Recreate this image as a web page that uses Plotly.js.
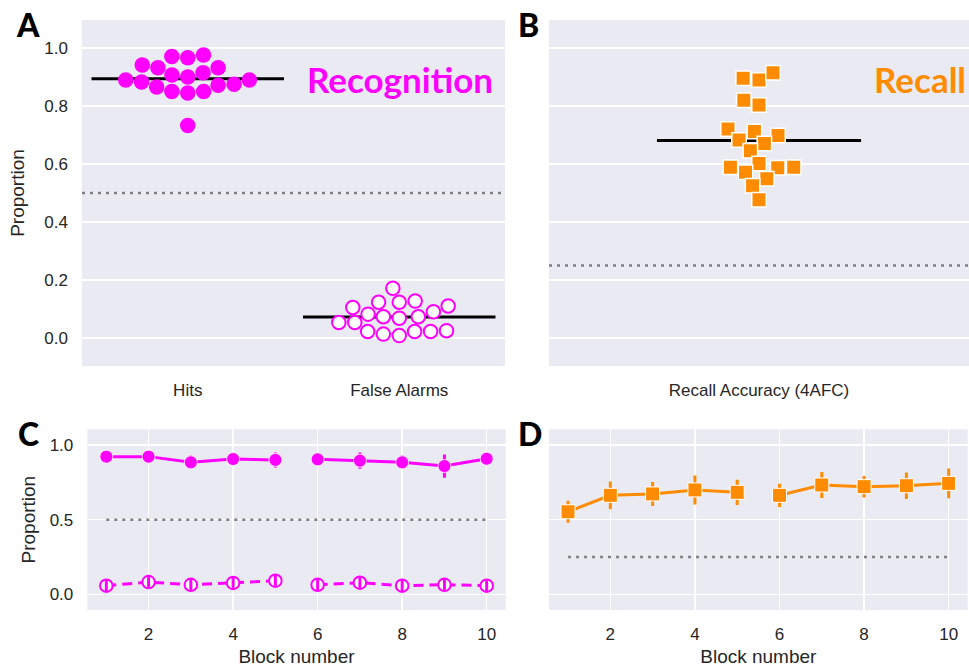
<!DOCTYPE html>
<html><head><meta charset="utf-8">
<script src="https://cdn.plot.ly/plotly-3.0.1.min.js"></script>
<style>html,body{margin:0;padding:0;background:#fff}#chart{width:969px;height:667px}</style>
</head><body><div id="chart"></div>
<script>
// ---------------- data ----------------
const recogCategories = ['Hits', 'False Alarms'];
const hits = [0.976, 0.967, 0.971, 0.942, 0.932, 0.932, 0.890, 0.883, 0.866, 0.907,
              0.850, 0.900, 0.845, 0.915, 0.850, 0.872, 0.875, 0.890, 0.733];
const falseAlarms = [0.171, 0.127, 0.123, 0.123, 0.110, 0.090, 0.105, 0.082, 0.053, 0.053,
                     0.073, 0.068, 0.073, 0.022, 0.013, 0.008, 0.022, 0.022, 0.025];
const recallCategories = ['Recall Accuracy (4AFC)'];
const recall = [0.896, 0.890, 0.915, 0.820, 0.804, 0.712, 0.698, 0.721, 0.671, 0.683,
                0.646, 0.602, 0.589, 0.572, 0.587, 0.589, 0.549, 0.525, 0.477];
const blocks = [1, 2, 3, 4, 5, 6, 7, 8, 9, 10];
const blockHits = [0.922, 0.922, 0.884, 0.906, 0.900, 0.904, 0.895, 0.884, 0.859, 0.908];
const blockHitsErr = [0.025, 0.025, 0.045, 0.04, 0.05, 0.035, 0.055, 0.045, 0.078, 0.03];
const blockFA = [0.058, 0.082, 0.064, 0.076, 0.091, 0.064, 0.078, 0.058, 0.064, 0.058];
const blockFAErr = [0.04, 0.04, 0.04, 0.04, 0.04, 0.04, 0.04, 0.04, 0.04, 0.035];
const blockRecall = [0.553, 0.663, 0.672, 0.699, 0.683, 0.663, 0.732, 0.721, 0.727, 0.743];
const blockRecallErr = [0.074, 0.093, 0.08, 0.097, 0.085, 0.078, 0.087, 0.072, 0.088, 0.10];
const recogChance = 0.5;
const recallChance = 0.25;
const sessions = [[0, 5], [5, 10]];   // blocks 1-5 and 6-10 are drawn as separate runs

// ---------------- helpers ----------------
const MAG = '#FF00FF', ORG = '#FF8C00', BG = '#EAEAF2', TXT = '#262626';
const mean = a => a.reduce((s, v) => s + v, 0) / a.length;

// seaborn-like beeswarm: returns x (data units) for each value
function swarm(values, center, pxPerX, pxPerY, r) {
  const idx = values.map((v, i) => i).sort((a, b) => values[a] - values[b] || a - b);
  const placed = [];
  const xs = new Array(values.length);
  idx.forEach((i, k) => {
    const y = values[i] * pxPerY;
    if (k === 0) { placed.push({x: 0, y}); xs[i] = center; return; }
    const nb = placed.filter(p => Math.abs(p.y - y) < 2 * r);
    const cands = [0];
    nb.forEach(p => {
      const dy = y - p.y;
      const dx = Math.sqrt(Math.max(4 * r * r - dy * dy, 0)) * 1.05;
      cands.push(p.x - dx, p.x + dx);
    });
    const order = cands.map((c, j) => [c, j]).sort((a, b) => Math.abs(a[0]) - Math.abs(b[0]) || a[1] - b[1]);
    let chosen = 0;
    for (const [c] of order) {
      if (nb.every(p => (c - p.x) ** 2 + (y - p.y) ** 2 >= 4 * r * r - 1e-6)) { chosen = c; break; }
    }
    placed.push({x: chosen, y});
    xs[i] = center + chosen / pxPerX;
  });
  return xs;
}

const W = 969, H = 667;
const dom = (a, b) => [a / W, b / W];
const vdom = (top, bottom) => [1 - bottom / H, 1 - top / H];
const pxYTop = 290;       // px per unit, top row
const rSw = 7.6;

const traces = [];
// ---- Panel A ----
const hitsMean = mean(hits), faMean = mean(falseAlarms);
[[0, hitsMean], [1, faMean]].forEach(([c, m]) => traces.push({
  x: [c - 0.455, c + 0.455], y: [m, m], xaxis: 'x', yaxis: 'y', mode: 'lines',
  line: {color: '#000', width: 3}, hoverinfo: 'skip', showlegend: false
}));
traces.push({
  x: swarm(hits, 0, 211.5, pxYTop, rSw), y: hits, xaxis: 'x', yaxis: 'y', mode: 'markers',
  marker: {color: MAG, size: 15.5, line: {width: 0}}, showlegend: false, name: recogCategories[0]
});
traces.push({
  x: swarm(falseAlarms, 1, 211.5, pxYTop, rSw), y: falseAlarms, xaxis: 'x', yaxis: 'y', mode: 'markers',
  marker: {color: '#fff', size: 13.5, line: {color: MAG, width: 2}}, showlegend: false, name: recogCategories[1]
});
// ---- Panel B ----
const recallMean = mean(recall);
traces.push({
  x: [-0.243, 0.243], y: [recallMean, recallMean], xaxis: 'x2', yaxis: 'y2', mode: 'lines',
  line: {color: '#000', width: 3}, hoverinfo: 'skip', showlegend: false
});
traces.push({
  x: swarm(recall, 0, 420, pxYTop, rSw), y: recall, xaxis: 'x2', yaxis: 'y2', mode: 'markers',
  marker: {color: ORG, symbol: 'square', size: 14.5, line: {color: '#fff', width: 1.5}}, showlegend: false,
  name: recallCategories[0]
});
// ---- Panels C & D ----
sessions.forEach(([a, b]) => {
  const bx = blocks.slice(a, b);
  traces.push({
    x: bx, y: blockHits.slice(a, b), xaxis: 'x3', yaxis: 'y3', mode: 'lines+markers',
    line: {color: MAG, width: 3}, marker: {color: MAG, size: 13, line: {color: '#fff', width: 0.8}},
    error_y: {type: 'data', array: blockHitsErr.slice(a, b), color: MAG, thickness: 3, width: 0},
    showlegend: false, name: 'Hits'
  });
  traces.push({
    x: bx, y: blockFA.slice(a, b), xaxis: 'x3', yaxis: 'y3', mode: 'lines+markers',
    line: {color: MAG, width: 3, dash: '10px,6px'}, marker: {color: '#fff', size: 12.5, line: {color: MAG, width: 2}},
    showlegend: false, name: 'False Alarms'
  });
  traces.push({
    x: bx, y: blockFA.slice(a, b), xaxis: 'x3', yaxis: 'y3', mode: 'markers',
    marker: {color: 'rgba(0,0,0,0)', size: 1},
    error_y: {type: 'data', array: blockFAErr.slice(a, b), color: MAG, thickness: 3, width: 0},
    showlegend: false, hoverinfo: 'skip'
  });
  traces.push({
    x: bx, y: blockRecall.slice(a, b), xaxis: 'x4', yaxis: 'y4', mode: 'lines+markers',
    line: {color: ORG, width: 3}, marker: {color: ORG, symbol: 'square', size: 14, line: {color: '#fff', width: 1}},
    error_y: {type: 'data', array: blockRecallErr.slice(a, b), color: ORG, thickness: 3, width: 0},
    showlegend: false, name: 'Recall'
  });
});

const tickFont = {family: 'Liberation Sans, Arial, sans-serif', size: 17, color: TXT};
const titleFont = {family: 'Liberation Sans, Arial, sans-serif', size: 19, color: TXT};
const baseAx = {showline: false, zeroline: false, ticks: '', tickfont: tickFont, gridcolor: '#fff', gridwidth: 1.6,
  fixedrange: true, ticklabelstandoff: 13};

const topY = vdom(20, 366), botY = vdom(429.3, 610);
const layout = {
  width: W, height: H, margin: {l: 0, r: 0, t: 0, b: 0},
  paper_bgcolor: '#fff', plot_bgcolor: BG, showlegend: false,
  xaxis: Object.assign({}, baseAx, {domain: dom(82, 505), range: [-0.5, 1.5], tickvals: [0, 1],
    ticktext: recogCategories, showgrid: false, anchor: 'y', ticklabelstandoff: 12}),
  yaxis: Object.assign({}, baseAx, {domain: topY, range: [-0.097, 1.097], tickvals: [0, 0.2, 0.4, 0.6, 0.8, 1.0],
    tickformat: '.1f', anchor: 'x', title: {text: 'Proportion', font: titleFont, standoff: 14}}),
  xaxis2: Object.assign({}, baseAx, {domain: dom(549, 969), range: [-0.5, 0.5], tickvals: [0],
    ticktext: recallCategories, showgrid: false, anchor: 'y2', ticklabelstandoff: 12}),
  yaxis2: Object.assign({}, baseAx, {domain: topY, range: [-0.097, 1.097], tickvals: [0, 0.2, 0.4, 0.6, 0.8, 1.0],
    showticklabels: false, anchor: 'x2'}),
  xaxis3: Object.assign({}, baseAx, {domain: dom(87.3, 505.7), range: [0.55, 10.45], tickvals: [2, 4, 6, 8, 10],
    anchor: 'y3', ticklabelstandoff: 12, title: {text: 'Block number', font: titleFont, standoff: 8}}),
  yaxis3: Object.assign({}, baseAx, {domain: botY, range: [-0.105, 1.105], tickvals: [0, 0.5, 1.0],
    tickformat: '.1f', anchor: 'x3', title: {text: 'Proportion', font: titleFont, standoff: 8}}),
  xaxis4: Object.assign({}, baseAx, {domain: dom(549, 967.7), range: [0.55, 10.45], tickvals: [2, 4, 6, 8, 10],
    anchor: 'y4', ticklabelstandoff: 12, title: {text: 'Block number', font: titleFont, standoff: 8}}),
  yaxis4: Object.assign({}, baseAx, {domain: botY, range: [-0.105, 1.105], tickvals: [0, 0.5, 1.0],
    showticklabels: false, anchor: 'x4'}),
  shapes: [
    {type: 'line', xref: 'x domain', yref: 'y', x0: 0, x1: 1, y0: recogChance, y1: recogChance,
      line: {color: '#808080', width: 2.5, dash: '3px,5px'}},
    {type: 'line', xref: 'x2 domain', yref: 'y2', x0: 0, x1: 1, y0: recallChance, y1: recallChance,
      line: {color: '#808080', width: 2.5, dash: '3px,5px'}},
    {type: 'line', xref: 'x3', yref: 'y3', x0: blocks[0], x1: blocks[blocks.length - 1], y0: recogChance, y1: recogChance,
      line: {color: '#808080', width: 2.5, dash: '3px,5px'}},
    {type: 'line', xref: 'x4', yref: 'y4', x0: blocks[0], x1: blocks[blocks.length - 1], y0: recallChance, y1: recallChance,
      line: {color: '#808080', width: 2.5, dash: '3px,5px'}}
  ],
  annotations: [
    ...[['A', 28, 24], ['B', 528, 24], ['C', 28, 433], ['D', 530, 433]].map(([t, x, y]) => ({
      text: t, xref: 'paper', yref: 'paper', x: x / W, y: 1 - y / H, xanchor: 'center', yanchor: 'middle',
      showarrow: false, font: {family: 'Lato, sans-serif', size: 32, color: '#000', weight: 900}
    })),
    {text: 'Recognition', xref: 'paper', yref: 'paper', x: 400 / W, y: 1 - 79 / H, xanchor: 'center', yanchor: 'middle',
      showarrow: false, font: {family: 'Lato, sans-serif', size: 35, color: MAG, weight: 700}},
    {text: 'Recall', xref: 'paper', yref: 'paper', x: 968 / W, y: 1 - 79 / H, xanchor: 'right', yanchor: 'middle',
      showarrow: false, font: {family: 'Lato, sans-serif', size: 35, color: ORG, weight: 700}}
  ]
};

Plotly.newPlot('chart', traces, layout, {staticPlot: true, displayModeBar: false});
</script>
</body></html>
